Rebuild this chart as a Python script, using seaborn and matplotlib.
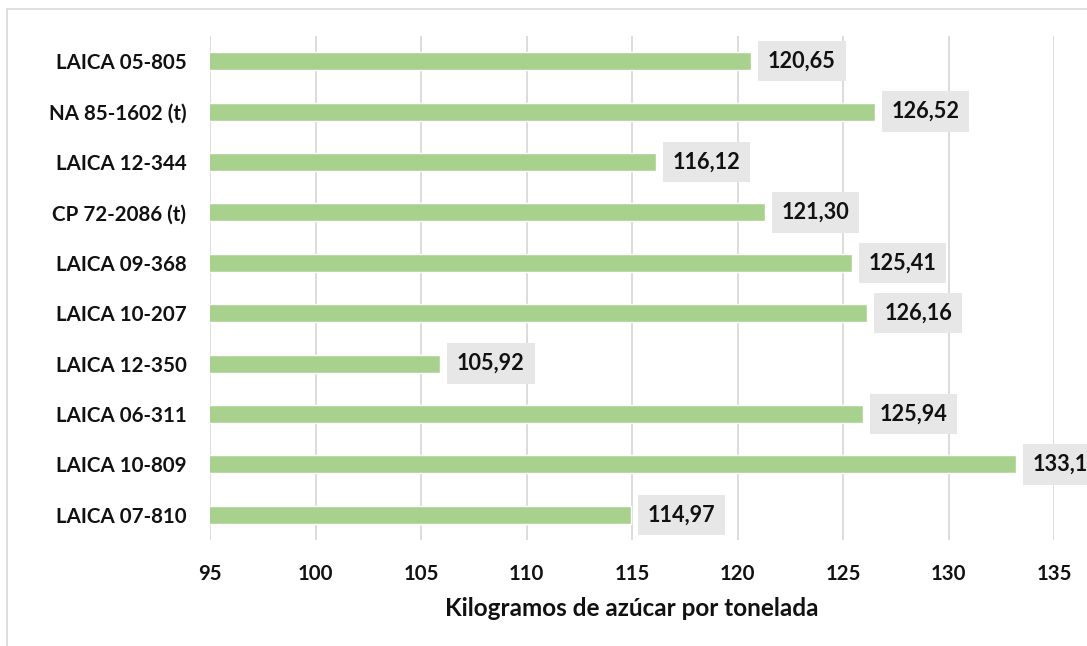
import matplotlib
matplotlib.use("Agg")
import matplotlib.pyplot as plt
import pandas as pd
import seaborn as sns
from matplotlib.patches import Rectangle

# Data (top to bottom as shown)
variedades = [
    "LAICA 05-805",
    "NA 85-1602 (t)",
    "LAICA 12-344",
    "CP 72-2086 (t)",
    "LAICA 09-368",
    "LAICA 10-207",
    "LAICA 12-350",
    "LAICA 06-311",
    "LAICA 10-809",
    "LAICA 07-810",
]
kg_azucar = [120.65, 126.52, 116.12, 121.30, 125.41, 126.16, 105.92, 125.94, 133.19, 114.97]
x_ticks = [95, 100, 105, 110, 115, 120, 125, 130, 135]

df = pd.DataFrame({"variedad": variedades, "kg": kg_azucar})

sns.set_theme(style="white")
plt.rcParams["font.family"] = ["Lato", "DejaVu Sans"]
TXT = "#111111"

fig = plt.figure(figsize=(10.87, 6.46), dpi=100)
ax = fig.add_axes([210 / 1087, 1 - 540 / 646, (1054 - 210) / 1087, (540 - 36) / 646])

# outer chart border
fig.patches.append(Rectangle((7 / 1087, -0.01), 1.1, 1 - 9 / 646 + 0.01, transform=fig.transFigure,
                             fill=False, edgecolor="#d9d9d9", linewidth=1.2))

sns.barplot(data=df, x="kg", y="variedad", orient="h", color="#a9d18e", width=0.36,
            saturation=1, ax=ax, zorder=2)

ax.set_xlim(95, 135)
ax.set_ylim(len(variedades) - 0.5, -0.5)
ax.set_xticks(x_ticks)
ax.set_xticklabels([str(t) for t in x_ticks], fontsize=14.7, fontweight="bold", color=TXT)
ax.tick_params(axis="x", pad=17, length=0)
ax.tick_params(axis="y", pad=17, length=0)
for lbl in ax.get_yticklabels():
    lbl.set_fontsize(14.8)
    lbl.set_fontweight("bold")
    lbl.set_color(TXT)

ax.grid(axis="x", color="#d9d9d9", linewidth=1.3, zorder=0)
ax.set_axisbelow(True)
for s in ax.spines.values():
    s.set_visible(False)

ax.set_ylabel("")
ax.set_xlabel("Kilogramos de azúcar por tonelada", fontsize=17.5, fontweight="bold",
              color=TXT, labelpad=10)

# value labels in grey boxes
for i, v in enumerate(kg_azucar):
    ax.annotate(f"{v:.2f}".replace(".", ","), xy=(v, i), xytext=(12, 0),
                textcoords="offset points", va="center", ha="left",
                fontsize=15.6, fontweight="bold", color=TXT, annotation_clip=False,
                bbox=dict(boxstyle="square,pad=0.45", facecolor="#e7e7e7", edgecolor="none"),
                zorder=3)

fig.savefig("out.png", dpi=100)
